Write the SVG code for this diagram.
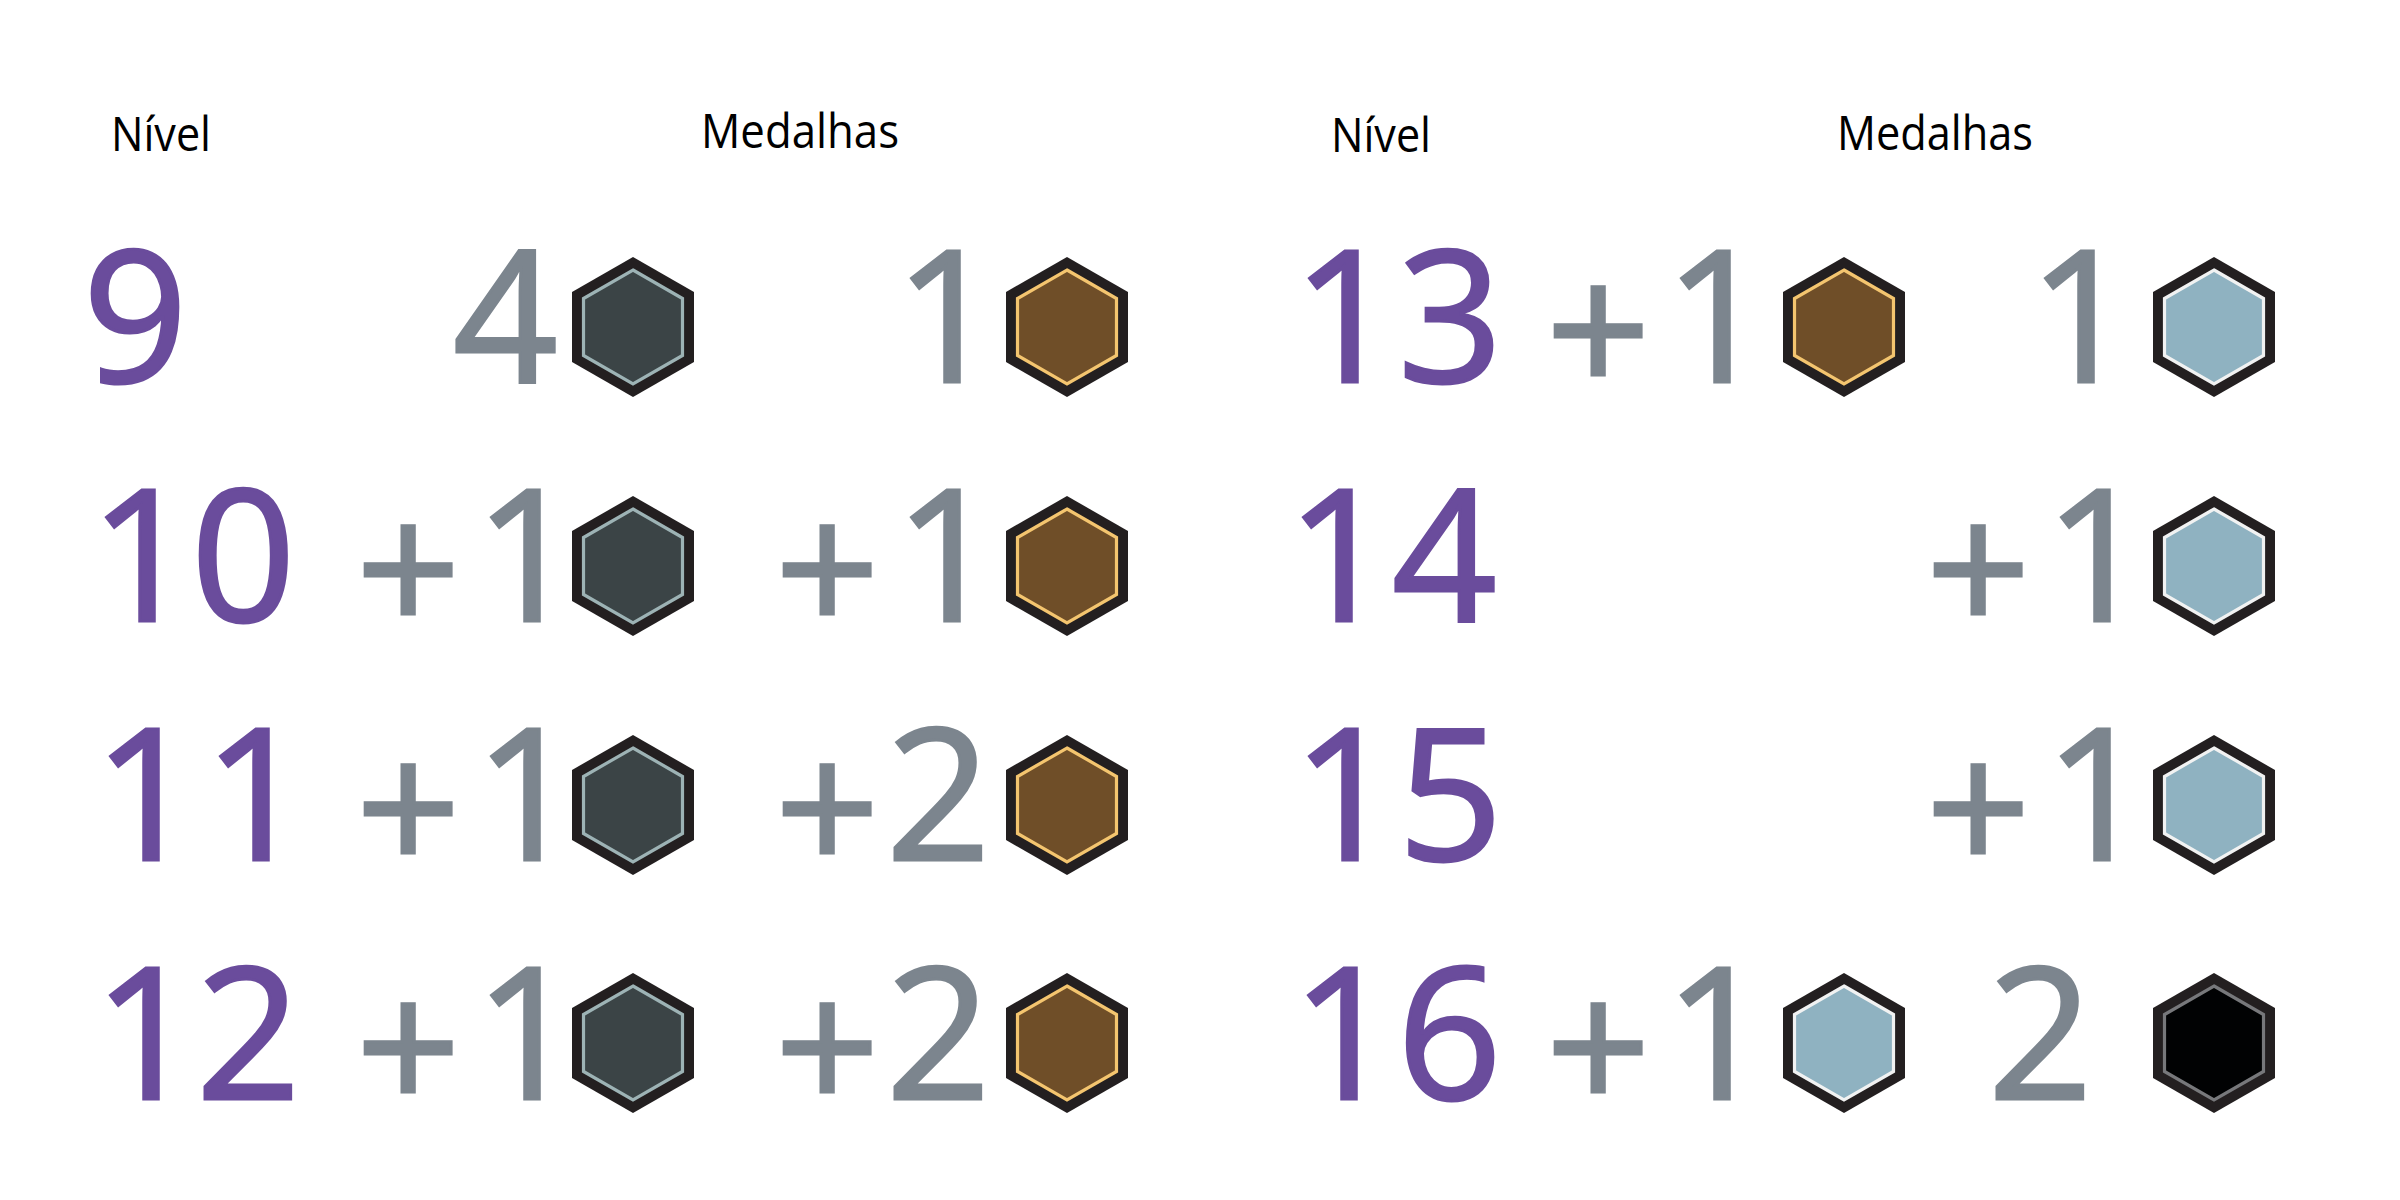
<svg xmlns="http://www.w3.org/2000/svg" width="2400" height="1200" viewBox="0 0 2400 1200">
<style>
text{font-family:"Open Sans","Noto Sans",sans-serif}
.h{font-size:48px;fill:#000}
.n{font-size:183px;fill:#6a4c9c;stroke:#6a4c9c;stroke-width:3}
.m{font-size:183px;fill:#7c858e;stroke:#7c858e;stroke-width:3}
.o{fill:#231f20}
.i{stroke-width:3.2}
.d{fill:#3b4446;stroke:#9db3b5}
.b{fill:#6f4e28;stroke:#f4c56f}
.s{fill:#8fb2c1;stroke:#f1f2f2}
.k{fill:#010203;stroke:#77787b}
</style>
<defs>
<polygon id="hx" class="o" points="0,-70 61,-35 61,35 0,70 -61,35 -61,-35"/>
<polygon id="hi" class="i" points="0,-57 49.5,-28.5 49.5,28.5 0,57 -49.5,28.5 -49.5,-28.5"/>
</defs>
<rect width="2400" height="1200" fill="#fff"/>
<g id="headers">
<text class="h" x="111" y="151" textLength="100" lengthAdjust="spacingAndGlyphs">Nível</text>
<text class="h" x="701" y="148" textLength="198" lengthAdjust="spacingAndGlyphs">Medalhas</text>
<text class="h" x="1331" y="152" textLength="100" lengthAdjust="spacingAndGlyphs">Nível</text>
<text class="h" x="1837" y="150" textLength="196" lengthAdjust="spacingAndGlyphs">Medalhas</text>
</g>
<g id="levels">
<text class="n" x="83" y="381.5">9</text>
<text class="n" x="90 191" y="620.5">10</text>
<text class="n" x="94 204" y="859.5">11</text>
<text class="n" x="94 196" y="1098.5">12</text>
<text class="n" x="1293 1398" y="381.5">13</text>
<text class="n" x="1287 1392" y="620.5">14</text>
<text class="n" x="1293 1398" y="859.5">15</text>
<text class="n" x="1292 1397" y="1098.5">16</text>
</g>
<g id="counts">
<text class="m" x="453" y="381.5">4</text>
<text class="m" x="895" y="381.5">1</text>
<text class="m" x="2029" y="381.5">1</text>
<text class="m" x="1546 1665" y="396 381.5">+1</text>
<text class="m" x="356 475" y="635 620.5">+1</text>
<text class="m" x="775 895" y="635 620.5">+1</text>
<text class="m" x="1926 2045" y="635 620.5">+1</text>
<text class="m" x="356 475" y="874 859.5">+1</text>
<text class="m" x="775 886" y="874 859.5">+2</text>
<text class="m" x="1926 2045" y="874 859.5">+1</text>
<text class="m" x="356 475" y="1113 1098.5">+1</text>
<text class="m" x="775 886" y="1113 1098.5">+2</text>
<text class="m" x="1546 1665" y="1113 1098.5">+1</text>
<text class="m" x="1988" y="1098.5">2</text>
</g>
<g id="medal-r1-dark" transform="translate(633,327)"><use href="#hx"/><use href="#hi" class="d"/></g>
<g id="medal-r2-dark" transform="translate(633,566)"><use href="#hx"/><use href="#hi" class="d"/></g>
<g id="medal-r3-dark" transform="translate(633,805)"><use href="#hx"/><use href="#hi" class="d"/></g>
<g id="medal-r4-dark" transform="translate(633,1043)"><use href="#hx"/><use href="#hi" class="d"/></g>
<g id="medal-r1-bronze" transform="translate(1067,327)"><use href="#hx"/><use href="#hi" class="b"/></g>
<g id="medal-r2-bronze" transform="translate(1067,566)"><use href="#hx"/><use href="#hi" class="b"/></g>
<g id="medal-r3-bronze" transform="translate(1067,805)"><use href="#hx"/><use href="#hi" class="b"/></g>
<g id="medal-r4-bronze" transform="translate(1067,1043)"><use href="#hx"/><use href="#hi" class="b"/></g>
<g id="medal-r1-bronze2" transform="translate(1844,327)"><use href="#hx"/><use href="#hi" class="b"/></g>
<g id="medal-r4-silver" transform="translate(1844,1043)"><use href="#hx"/><use href="#hi" class="s"/></g>
<g id="medal-r1-silver" transform="translate(2214,327)"><use href="#hx"/><use href="#hi" class="s"/></g>
<g id="medal-r2-silver" transform="translate(2214,566)"><use href="#hx"/><use href="#hi" class="s"/></g>
<g id="medal-r3-silver" transform="translate(2214,805)"><use href="#hx"/><use href="#hi" class="s"/></g>
<g id="medal-r4-black" transform="translate(2214,1043)"><use href="#hx"/><use href="#hi" class="k"/></g>
<g id="connectors"/>
</svg>
